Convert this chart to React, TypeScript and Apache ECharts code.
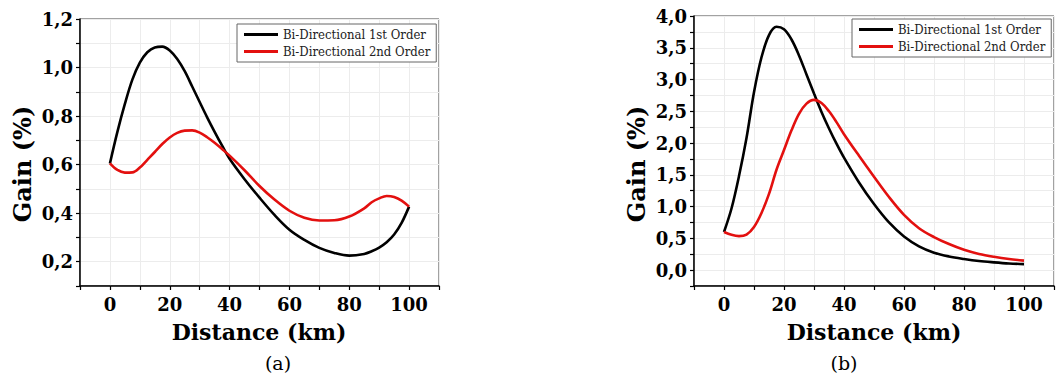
import React, { useEffect, useRef } from "react";
import * as echarts from "echarts";

const distA = [0, 2.5, 5, 7.5, 10, 12.5, 15, 17.5, 20, 22.5, 25, 27.5, 30, 32.5, 35, 37.5, 40, 45, 50, 55, 60, 65, 70, 75, 80, 85, 87.5, 90, 92.5, 95, 97.5, 100];
const firstA = [0.605, 0.735, 0.85, 0.95, 1.02, 1.063, 1.083, 1.086, 1.07, 1.035, 0.985, 0.922, 0.858, 0.795, 0.735, 0.678, 0.624, 0.54, 0.464, 0.393, 0.332, 0.29, 0.257, 0.236, 0.225, 0.232, 0.243, 0.258, 0.28, 0.312, 0.36, 0.427];
const secondA = [0.605, 0.578, 0.567, 0.568, 0.588, 0.62, 0.652, 0.685, 0.712, 0.731, 0.74, 0.741, 0.732, 0.713, 0.69, 0.664, 0.637, 0.577, 0.512, 0.456, 0.41, 0.381, 0.37, 0.371, 0.386, 0.42, 0.445, 0.461, 0.471, 0.467, 0.452, 0.427];

const distB = [0, 2.5, 5, 7.5, 10, 12.5, 15, 17.5, 20, 22.5, 25, 27.5, 30, 32.5, 35, 37.5, 40, 45, 50, 55, 60, 65, 70, 75, 80, 85, 90, 95, 100];
const firstB = [0.6, 0.97, 1.48, 2.08, 2.8, 3.35, 3.7, 3.83, 3.79, 3.63, 3.38, 3.08, 2.78, 2.49, 2.23, 1.99, 1.77, 1.38, 1.04, 0.75, 0.53, 0.375, 0.275, 0.215, 0.175, 0.143, 0.122, 0.105, 0.095];
const secondB = [0.6, 0.555, 0.535, 0.56, 0.68, 0.9, 1.2, 1.58, 1.89, 2.2, 2.46, 2.62, 2.68, 2.63, 2.5, 2.33, 2.14, 1.8, 1.47, 1.15, 0.87, 0.66, 0.52, 0.41, 0.32, 0.255, 0.21, 0.175, 0.15];

const seriesNames = ["Bi-Directional 1st Order", "Bi-Directional 2nd Order"];
const xName = "Distance (km)";
const yName = "Gain (%)";
const captions = ["(a)", "(b)"];

const FONT = "DejaVu Serif";
const FONT_LEG = "DejaVu Serif Condensed, DejaVu Serif";

const pair = (xs: number[], ys: number[]) => xs.map((x, i) => [x, ys[i]]);

export default function App() {
  const ref = useRef<HTMLDivElement>(null);
  useEffect(() => {
    const chart = echarts.init(ref.current!, null, { renderer: "svg" });
    const xAxisBase = (gridIndex: number) => ({
      type: "value" as const,
      gridIndex,
      min: -10,
      max: 110,
      interval: 10,
      axisLine: { show: true, onZero: false, lineStyle: { color: "#000", width: 1.5 } },
      axisTick: { show: true, length: 4, lineStyle: { color: "#000", width: 1.2 } },
      axisLabel: {
        margin: 9,
        fontFamily: FONT,
        fontWeight: "bold",
        fontSize: 18,
        color: "#000",
        formatter: (v: number) => (v % 20 === 0 && v >= 0 && v <= 100 ? String(v) : ""),
      },
      splitLine: { show: true, lineStyle: { color: "#ececec", width: 1 } },
    });
    const yAxisBase = (gridIndex: number, min: number, max: number, step: number) => ({
      type: "value" as const,
      gridIndex,
      min,
      max,
      interval: step,
      axisLine: { show: true, onZero: false, lineStyle: { color: "#000", width: 1.5 } },
      axisTick: { show: true, length: 4, lineStyle: { color: "#000", width: 1.2 } },
      axisLabel: {
        margin: 7,
        fontFamily: FONT,
        fontWeight: "bold",
        fontSize: 18,
        color: "#000",
        formatter: (v: number) => {
          const k = Math.round(v / step);
          if (k % 2 !== 0) return "";
          return v.toFixed(1).replace(".", ",");
        },
      },
      splitLine: { show: true, lineStyle: { color: "#ececec", width: 1 } },
    });
    const legend = (left: number, top: number) => ({
      orient: "vertical" as const,
      left,
      top,
      data: seriesNames,
      icon: "rect",
      itemWidth: 34,
      itemHeight: 3,
      itemGap: 4,
      padding: [4, 6, 4, 7],
      backgroundColor: "#fff",
      borderColor: "#666",
      borderWidth: 1,
      borderRadius: 0,
      selectedMode: false,
      textStyle: { fontFamily: FONT_LEG, fontSize: 13, color: "#222" },
    });
    const line = (name: string, xi: number, data: number[][], color: string) => ({
      type: "line" as const,
      name,
      xAxisIndex: xi,
      yAxisIndex: xi,
      data,
      smooth: 0.35,
      showSymbol: false,
      symbol: "none",
      lineStyle: { color, width: 2.6 },
      itemStyle: { color },
      z: name === seriesNames[0] ? 3 : 4,
    });
    const txt = (x: number, y: number, text: string, size: number, bold: boolean, rot = 0) => ({
      type: "text" as const,
      x,
      y,
      rotation: rot,
      style: {
        text,
        fontFamily: FONT,
        fontSize: size,
        fontWeight: bold ? "bold" : "normal",
        fill: "#000",
        textAlign: "center",
        textVerticalAlign: "middle",
      },
    });
    chart.setOption({
      animation: false,
      backgroundColor: "#fff",
      grid: [
        { left: 80, top: 19, width: 359, height: 267, show: true, borderColor: "#444", borderWidth: 1, backgroundColor: "transparent" },
        { left: 694, top: 16, width: 361, height: 270, show: true, borderColor: "#444", borderWidth: 1, backgroundColor: "transparent" },
      ],
      xAxis: [xAxisBase(0), xAxisBase(1)],
      yAxis: [yAxisBase(0, 0.1, 1.2, 0.1), yAxisBase(1, -0.25, 4.0, 0.25)],
      legend: [legend(237, 24), legend(852, 19)],
      series: [
        line(seriesNames[0], 0, pair(distA, firstA), "#000"),
        line(seriesNames[1], 0, pair(distA, secondA), "#e3100f"),
        line(seriesNames[0], 1, pair(distB, firstB), "#000"),
        line(seriesNames[1], 1, pair(distB, secondB), "#e3100f"),
      ],
      graphic: [
        txt(22, 164, yName, 24, true, Math.PI / 2),
        txt(636, 164, yName, 24, true, Math.PI / 2),
        txt(259, 332, xName, 22, true),
        txt(874, 332, xName, 22, true),
        txt(278, 363, captions[0], 19, false),
        txt(844, 363, captions[1], 19, false),
      ],
    });
    return () => chart.dispose();
  }, []);
  return <div ref={ref} style={{ position: "absolute", left: 0, top: 0, width: 1057, height: 376 }} />;
}
